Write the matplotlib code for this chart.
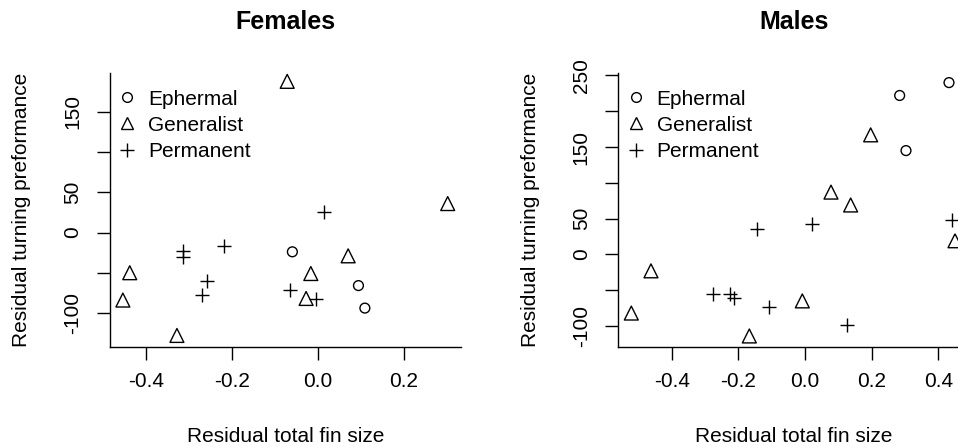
import matplotlib
matplotlib.use("Agg")
import matplotlib.pyplot as plt
from matplotlib.lines import Line2D

plt.rcParams['font.family'] = ['Liberation Sans', 'DejaVu Sans']

# Females
f_eph_x = [-0.059, 0.095, 0.110]
f_eph_y = [-24, -66, -94]
f_gen_x = [-0.071, 0.303, -0.438, -0.454, -0.328, 0.071, -0.016, -0.027]
f_gen_y = [188, 36, -50, -84, -128, -29, -51, -82]
f_per_x = [0.014, -0.315, -0.313, -0.218, -0.258, -0.269, -0.065, -0.004]
f_per_y = [25, -23, -30, -17, -60, -78, -72, -83]

# Males
m_eph_x = [0.284, 0.432, 0.303]
m_eph_y = [222, 240, 145]
m_gen_x = [0.197, 0.078, 0.137, -0.462, -0.521, -0.167, -0.008, 0.450]
m_gen_y = [167, 87, 69, -23, -82, -114, -65, 19]
m_per_x = [-0.143, 0.021, 0.440, -0.275, -0.226, -0.212, -0.109, 0.126]
m_per_y = [35, 42, 48, -56, -56, -61, -74, -98]

groups = ["Ephermal", "Generalist", "Permanent"]

f_yticks = [-100, -50, 0, 50, 100, 150]
f_ylabels = ["-100", "", "0", "50", "", "150"]
m_yticks = [-100, -50, 0, 50, 100, 150, 200, 250]
m_ylabels = ["-100", "", "0", "50", "", "150", "", "250"]
f_xticks = [-0.4, -0.2, 0.0, 0.2]
m_xticks = [-0.4, -0.2, 0.0, 0.2, 0.4]

FS = 15
W, H = 958, 447

fig = plt.figure(figsize=(W / 100, H / 100), dpi=100)


def px_axes(x0, x1, y0, y1):
    return fig.add_axes([x0 / W, 1 - y1 / H, (x1 - x0) / W, (y1 - y0) / H])


def draw(ax, data, title, xlim, ylim, xticks, yticks, ylabels):
    (ex, ey), (gx, gy), (px_, py_) = data
    ax.scatter(ex, ey, marker='o', s=50, facecolors='none', edgecolors='black',
               linewidths=1.0, clip_on=False)
    ax.scatter(gx, gy, marker='^', s=100, facecolors='none', edgecolors='black',
               linewidths=1.0, clip_on=False)
    ax.scatter(px_, py_, marker='+', s=110, color='black', linewidths=1.0,
               clip_on=False)
    ax.set_xlim(*xlim)
    ax.set_ylim(*ylim)
    ax.set_xticks(xticks)
    ax.set_xticklabels([f"{t:.1f}" for t in xticks])
    ax.set_yticks(yticks)
    ax.set_yticklabels(ylabels)
    for s in ['top', 'right']:
        ax.spines[s].set_visible(False)
    for s in ['left', 'bottom']:
        ax.spines[s].set_linewidth(1.0)
    ax.tick_params(axis='both', length=9.4, width=1.0, labelsize=FS)
    ax.tick_params(axis='y', pad=10.5, labelrotation=90)
    ax.tick_params(axis='x', pad=9)
    for lab in ax.get_yticklabels():
        lab.set_va('center')
    ax.set_xlabel("Residual total fin size", fontsize=FS)
    ax.set_ylabel("Residual turning preformance", fontsize=FS)
    ax.text(0.5, 1 + (73.3 - 22) / 273.4, title, transform=ax.transAxes,
            ha='center', va='center', fontsize=18, fontweight='bold')
    handles = [
        Line2D([], [], marker='o', ls='none', mfc='none', mec='black', ms=7, mew=1.0),
        Line2D([], [], marker='^', ls='none', mfc='none', mec='black', ms=9, mew=1.0),
        Line2D([], [], marker='+', ls='none', color='black', ms=10, mew=1.0),
    ]
    ax.legend(handles, groups, loc='upper left', frameon=False, fontsize=FS,
              handlelength=1.0, handletextpad=0.5, labelspacing=0.34,
              borderaxespad=0.0, borderpad=0.0,
              bbox_to_anchor=(0.02, 0.94))


ax1 = px_axes(110, 461, 73.3, 346.7)
draw(ax1, [(f_eph_x, f_eph_y), (f_gen_x, f_gen_y), (f_per_x, f_per_y)],
     "Females", (-0.484, 0.334), (-142, 198), f_xticks, f_yticks, f_ylabels)
ax1.yaxis.set_label_coords((21.7 - 110) / 351, 0.5)
ax1.xaxis.set_label_coords(0.5, -(437 - 346.7) / 273.4)
ax1.xaxis.label.set_va('center')
ax1.yaxis.label.set_va('center')

ax2 = px_axes(618.3, 970, 73.3, 346.7)
draw(ax2, [(m_eph_x, m_eph_y), (m_gen_x, m_gen_y), (m_per_x, m_per_y)],
     "Males", (-0.56, 0.495), (-129, 253), m_xticks, m_yticks, m_ylabels)
ax2.yaxis.set_label_coords((530.7 - 618.3) / 351.7, 0.5)
ax2.xaxis.set_label_coords(0.5, -(437 - 346.7) / 273.4)
ax2.xaxis.label.set_va('center')
ax2.yaxis.label.set_va('center')

fig.savefig("out.png", dpi=100)
